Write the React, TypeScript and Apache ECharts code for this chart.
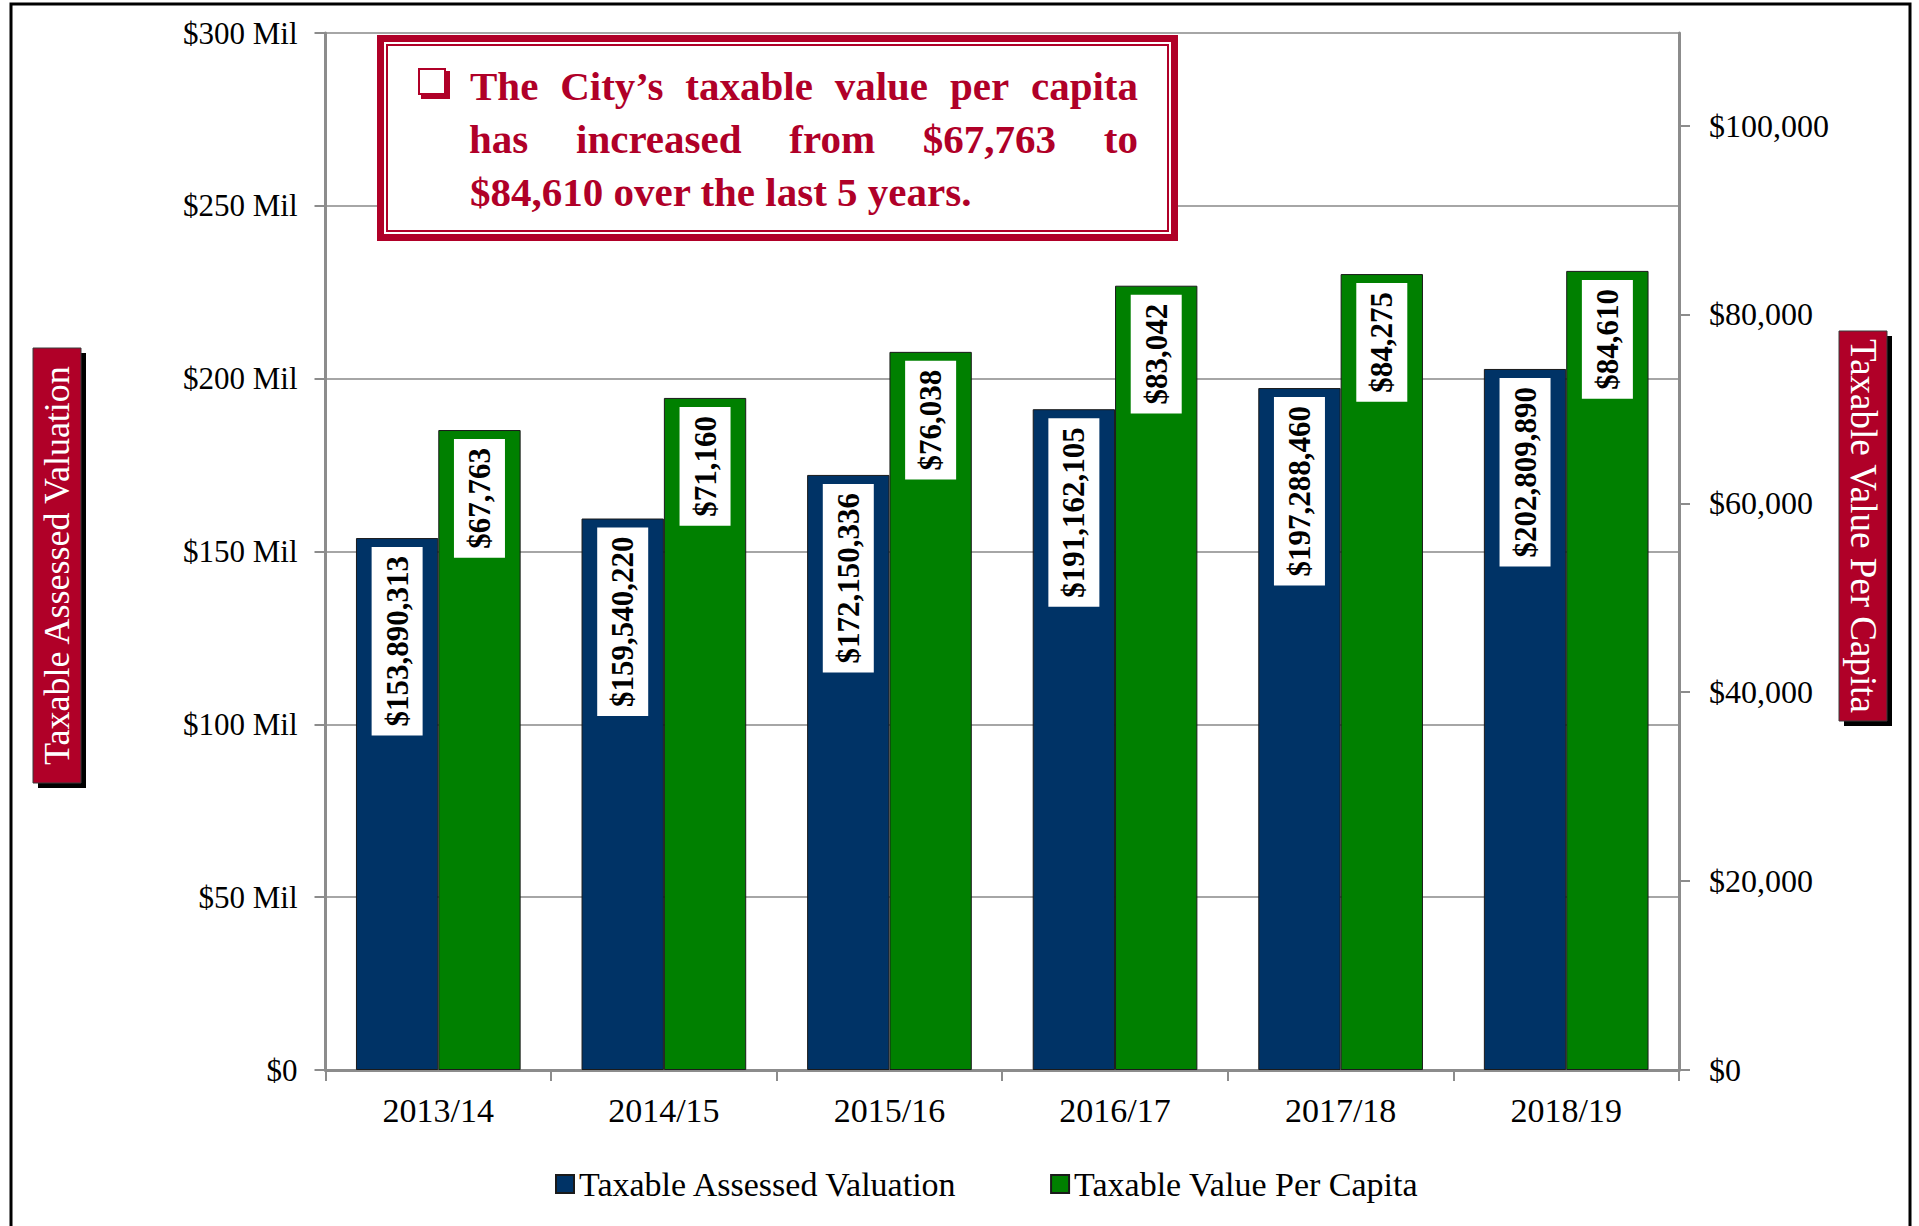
import React, { useEffect, useRef } from 'react';
import * as echarts from 'echarts';

const categories = ['2013/14', '2014/15', '2015/16', '2016/17', '2017/18', '2018/19'];
const assessedValuation = [153890313, 159540220, 172150336, 191162105, 197288460, 202809890];
const valuePerCapita = [67763, 71160, 76038, 83042, 84275, 84610];
const seriesNames = ['Taxable Assessed Valuation', 'Taxable Value Per Capita'];
const leftTitle = 'Taxable Assessed Valuation';
const rightTitle = 'Taxable Value Per Capita';
const noteLine1 = ['The', 'City\u2019s', 'taxable', 'value', 'per', 'capita'];
const noteLine2 = ['has', 'increased', 'from', '$67,763', 'to'];
const noteLine3 = '$84,610 over the last 5 years.';

const RED = '#B00028';
const BLUE = '#003366';
const GREEN = '#008000';
const FONT = '"Liberation Serif", "Times New Roman", serif';
const NOTE_FONT = `bold 41px ${FONT}`;

const money = (v: number) => '$' + Math.round(v).toLocaleString('en-US');

export default function App() {
  const ref = useRef<HTMLDivElement>(null);
  useEffect(() => {
    if (!ref.current) return;
    const chart = echarts.init(ref.current, null, { renderer: 'svg' });
    const ctx = document.createElement('canvas').getContext('2d') as CanvasRenderingContext2D;
    ctx.font = NOTE_FONT;
    const labelBase = {
      show: true,
      position: 'insideTop',
      rotate: 90,
      align: 'right',
      verticalAlign: 'middle',
      distance: 9,
      backgroundColor: '#fff',
      padding: [10, 9],
      color: '#000',
      fontFamily: FONT,
      fontSize: 31,
      fontWeight: 'bold',
      formatter: (p: any) => money(p.value),
    };
    const noteText = (text: string, x: number, y: number) => ({
      type: 'text',
      x,
      y,
      style: { text, fill: RED, font: NOTE_FONT, textAlign: 'left', textVerticalAlign: 'middle' },
      z: 102,
    });
    // justified line between x0 and x1
    const justify = (words: string[], x0: number, x1: number, y: number) => {
      const widths = words.map((w) => ctx.measureText(w).width);
      const total = widths.reduce((a, b) => a + b, 0);
      const gap = (x1 - x0 - total) / (words.length - 1);
      let x = x0;
      return words.map((w, i) => {
        const el = noteText(w, x, y);
        x += widths[i] + gap;
        return el;
      });
    };
    const graphics: any[] = [
      // outer frame
      { type: 'rect', shape: { x: 11, y: 4, width: 1899, height: 1240 }, style: { fill: 'none', stroke: '#000', lineWidth: 3 }, z: 100 },
      // annotation box
      { type: 'rect', shape: { x: 380.5, y: 38.5, width: 794, height: 199 }, style: { fill: '#fff', stroke: RED, lineWidth: 7 }, z: 100 },
      { type: 'rect', shape: { x: 387, y: 45, width: 781, height: 186 }, style: { fill: '#fff', stroke: RED, lineWidth: 2 }, z: 101 },
      // bullet box
      { type: 'rect', shape: { x: 421, y: 71, width: 29, height: 28 }, style: { fill: RED }, z: 102 },
      { type: 'rect', shape: { x: 419, y: 69, width: 26, height: 25 }, style: { fill: '#fff', stroke: RED, lineWidth: 2 }, z: 103 },
      ...justify(noteLine1, 470, 1138, 86),
      ...justify(noteLine2, 469, 1138, 139),
      noteText(noteLine3, 470, 192),
      // left title
      { type: 'rect', shape: { x: 38, y: 353, width: 48, height: 435 }, style: { fill: '#000' }, z: 100 },
      { type: 'rect', shape: { x: 33, y: 348, width: 48, height: 435 }, style: { fill: RED, stroke: '#3a3a3a', lineWidth: 1 }, z: 101 },
      {
        type: 'text', x: 57, y: 565.5, rotation: Math.PI / 2, z: 102,
        style: { text: leftTitle, fill: '#fff', font: `36px ${FONT}`, textAlign: 'center', textVerticalAlign: 'middle' },
      },
      // right title
      { type: 'rect', shape: { x: 1844, y: 336, width: 48, height: 390 }, style: { fill: '#000' }, z: 100 },
      { type: 'rect', shape: { x: 1839, y: 331, width: 48, height: 390 }, style: { fill: RED, stroke: '#3a3a3a', lineWidth: 1 }, z: 101 },
      {
        type: 'text', x: 1863, y: 526, rotation: -Math.PI / 2, z: 102,
        style: { text: rightTitle, fill: '#fff', font: `37px ${FONT}`, textAlign: 'center', textVerticalAlign: 'middle' },
      },
    ];
    chart.setOption({
      animation: false,
      backgroundColor: '#fff',
      textStyle: { fontFamily: FONT },
      grid: { left: 325.5, right: 240, top: 33, bottom: 156, containLabel: false },
      legend: {
        data: seriesNames,
        left: 550,
        top: 1162,
        itemWidth: 18,
        itemHeight: 18,
        itemGap: 92,
        icon: 'rect',
        textStyle: { fontFamily: FONT, fontSize: 34, color: '#000' },
      },
      xAxis: {
        type: 'category',
        data: categories,
        axisLine: { lineStyle: { color: '#8c8c8c', width: 3 } },
        axisTick: { show: true, length: 11, lineStyle: { color: '#8c8c8c', width: 2 } },
        axisLabel: { color: '#000', fontFamily: FONT, fontSize: 34, margin: 23 },
      },
      yAxis: [
        {
          type: 'value',
          min: 0,
          max: 300000000,
          interval: 50000000,
          position: 'left',
          axisLine: { show: true, lineStyle: { color: '#8c8c8c', width: 3 } },
          axisTick: { show: true, length: 11, lineStyle: { color: '#8c8c8c', width: 2 } },
          splitLine: { show: true, lineStyle: { color: '#a6a6a6', width: 2 } },
          axisLabel: {
            color: '#000', fontFamily: FONT, fontSize: 31, margin: 28,
            formatter: (v: number) => (v === 0 ? '$0' : `$${v / 1000000} Mil`),
          },
        },
        {
          type: 'value',
          min: 0,
          max: 109800,
          interval: 20000,
          position: 'right',
          axisLine: { show: true, lineStyle: { color: '#8c8c8c', width: 3 } },
          axisTick: { show: true, length: 11, lineStyle: { color: '#8c8c8c', width: 2 } },
          splitLine: { show: false },
          axisLabel: {
            color: '#000', fontFamily: FONT, fontSize: 32, margin: 30, showMaxLabel: false,
            formatter: (v: number) => money(v),
          },
        },
      ],
      series: [
        {
          name: seriesNames[0],
          type: 'bar',
          yAxisIndex: 0,
          data: assessedValuation,
          barGap: '0%',
          barCategoryGap: '27%',
          itemStyle: { color: BLUE, borderColor: '#1a1a1a', borderWidth: 1 },
          label: labelBase,
        },
        {
          name: seriesNames[1],
          type: 'bar',
          yAxisIndex: 1,
          data: valuePerCapita,
          barGap: '0%',
          barCategoryGap: '27%',
          itemStyle: { color: GREEN, borderColor: '#1a1a1a', borderWidth: 1 },
          label: labelBase,
        },
      ],
      graphic: graphics,
    });
    return () => chart.dispose();
  }, []);
  return <div ref={ref} style={{ position: 'absolute', left: 0, top: 0, width: 1919, height: 1226 }} />;
}
